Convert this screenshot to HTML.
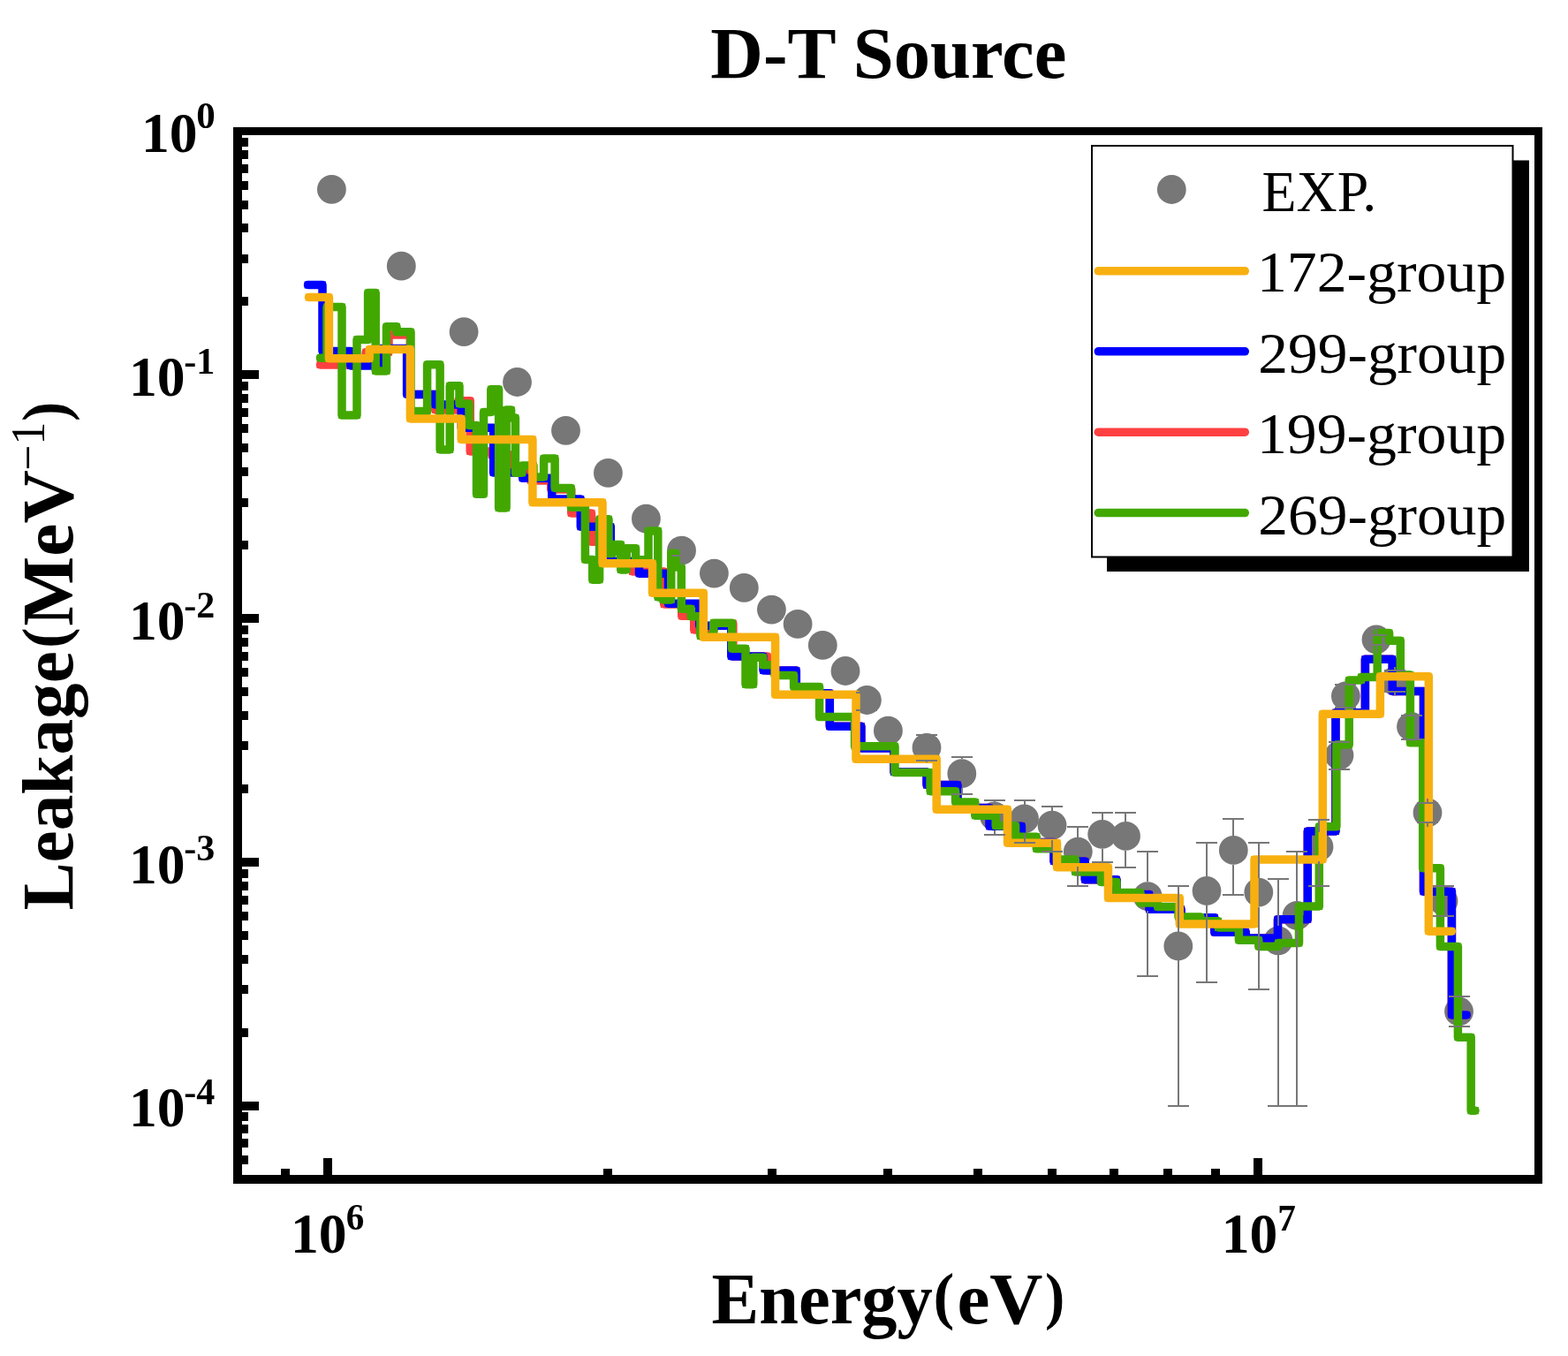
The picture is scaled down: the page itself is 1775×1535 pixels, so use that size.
<!DOCTYPE html><html><head><meta charset="utf-8"><title>D-T Source</title>
<style>html,body{margin:0;padding:0;background:#fff;}svg{display:block;}text{font-family:"Liberation Serif","Times New Roman",serif;}</style></head><body>
<svg xmlns="http://www.w3.org/2000/svg" width="1775" height="1535" viewBox="0 0 1775 1535">
<rect width="1775" height="1535" fill="#fff"/>
<g fill="#777777">
<circle cx="375.4" cy="214.3" r="16.4"/>
<circle cx="454.3" cy="301.2" r="16.4"/>
<circle cx="525.1" cy="375.6" r="16.4"/>
<circle cx="585.5" cy="432.5" r="16.4"/>
<circle cx="640.5" cy="487.3" r="16.4"/>
<circle cx="688.4" cy="535.4" r="16.4"/>
<circle cx="731.4" cy="587.2" r="16.4"/>
<circle cx="771.5" cy="623.2" r="16.4"/>
<circle cx="808.4" cy="649.1" r="16.4"/>
<circle cx="842.3" cy="665.4" r="16.4"/>
<circle cx="873.4" cy="690.1" r="16.4"/>
<circle cx="903.1" cy="706.3" r="16.4"/>
<circle cx="931.3" cy="730.3" r="16.4"/>
<circle cx="957.0" cy="759.5" r="16.4"/>
<circle cx="981.4" cy="792.5" r="16.4"/>
<circle cx="1005.4" cy="827.2" r="16.4"/>
<circle cx="1049.0" cy="846.3" r="16.4"/>
<circle cx="1088.8" cy="875.7" r="16.4"/>
<circle cx="1125.5" cy="924.0" r="16.4"/>
<circle cx="1159.5" cy="926.9" r="16.4"/>
<circle cx="1191.0" cy="934.2" r="16.4"/>
<circle cx="1220.3" cy="964.1" r="16.4"/>
<circle cx="1247.7" cy="944.3" r="16.4"/>
<circle cx="1274.5" cy="946.4" r="16.4"/>
<circle cx="1299.2" cy="1014.7" r="16.4"/>
<circle cx="1333.8" cy="1071.0" r="16.4"/>
<circle cx="1366.0" cy="1008.5" r="16.4"/>
<circle cx="1396.3" cy="962.4" r="16.4"/>
<circle cx="1424.8" cy="1010.2" r="16.4"/>
<circle cx="1447.0" cy="1064.8" r="16.4"/>
<circle cx="1468.1" cy="1036.4" r="16.4"/>
<circle cx="1493.0" cy="958.5" r="16.4"/>
<circle cx="1516.0" cy="855.0" r="16.4"/>
<circle cx="1523.4" cy="788.0" r="16.4"/>
<circle cx="1558.0" cy="724.0" r="16.4"/>
<circle cx="1579.0" cy="771.0" r="16.4"/>
<circle cx="1597.5" cy="822.5" r="16.4"/>
<circle cx="1616.0" cy="920.0" r="16.4"/>
<circle cx="1634.0" cy="1020.0" r="16.4"/>
<circle cx="1651.5" cy="1145.0" r="16.4"/>
</g>
<g fill="none" stroke="#FF4040"><path d="M362.50 413.00L414.20 413.00L414.20 398.70L440.00 398.70L440.00 379.00L464.30 379.00L464.30 446.40L492.70 446.40L492.70 464.00L518.80 464.00L518.80 453.70L532.20 453.70L532.20 511.00L556.70 511.00L556.70 515.00L578.80 515.00L578.80 533.00L600.75 533.00L600.75 543.90L623.75 543.90L623.75 554.00L646.75 554.00L646.75 581.00L669.50 581.00L669.50 613.25L691.30 613.25L691.30 635.50L716.00 635.50L716.00 647.00L751.75 647.00L751.75 684.00L771.75 684.00L771.75 697.35L785.75 697.35L785.75 713.00L808.00 713.00L808.00 705.80L829.85 705.80L829.85 743.00L868.50 743.00L868.50 759.00L901.30 759.00L901.30 784.80L939.30 784.80L939.30 822.30L974.90 822.30L974.90 847.00L1012.00 847.00L1012.00 874.00L1049.00 874.00L1049.00 888.50L1084.00 888.50L1084.00 914.50L1120.00 914.50L1120.00 935.20L1156.40 935.20L1156.40 953.50L1193.00 953.50L1193.00 975.00L1228.30 975.00L1228.30 995.80L1264.00 995.80L1264.00 1012.60L1301.00 1012.60L1301.00 1029.30L1337.00 1029.30L1337.00 1038.80L1374.80 1038.80L1374.80 1055.30L1410.20 1055.30L1410.20 1062.00L1446.50 1062.00L1446.50 1040.70L1480.30 1040.70L1480.30 941.00L1512.00 941.00L1512.00 806.80L1545.40 806.80L1545.40 746.30L1576.20 746.30L1576.20 782.40L1611.50 782.40L1611.50 1009.20L1643.40 1009.20L1643.40 1148.90L1660.20 1148.90" stroke-width="9.5" stroke-linejoin="round" stroke-linecap="round"/><path d="M362.50 413.00L414.20 413.00L414.20 398.70L440.00 398.70L440.00 379.00L464.30 379.00L464.30 446.40L492.70 446.40L492.70 464.00L518.80 464.00L518.80 453.70L532.20 453.70L532.20 511.00L556.70 511.00L556.70 515.00L578.80 515.00L578.80 533.00L600.75 533.00L600.75 543.90L623.75 543.90L623.75 554.00L646.75 554.00L646.75 581.00L669.50 581.00L669.50 613.25L691.30 613.25L691.30 635.50L716.00 635.50L716.00 647.00L751.75 647.00L751.75 684.00L771.75 684.00L771.75 697.35L785.75 697.35L785.75 713.00L808.00 713.00L808.00 705.80L829.85 705.80L829.85 743.00L868.50 743.00L868.50 759.00L901.30 759.00L901.30 784.80L939.30 784.80L939.30 822.30L974.90 822.30L974.90 847.00L1012.00 847.00L1012.00 874.00L1049.00 874.00L1049.00 888.50L1084.00 888.50L1084.00 914.50L1120.00 914.50L1120.00 935.20L1156.40 935.20L1156.40 953.50L1193.00 953.50L1193.00 975.00L1228.30 975.00L1228.30 995.80L1264.00 995.80L1264.00 1012.60L1301.00 1012.60L1301.00 1029.30L1337.00 1029.30L1337.00 1038.80L1374.80 1038.80L1374.80 1055.30L1410.20 1055.30L1410.20 1062.00L1446.50 1062.00L1446.50 1040.70L1480.30 1040.70L1480.30 941.00L1512.00 941.00L1512.00 806.80L1545.40 806.80L1545.40 746.30L1576.20 746.30L1576.20 782.40L1611.50 782.40L1611.50 1009.20L1643.40 1009.20L1643.40 1148.90L1660.20 1148.90" stroke-width="7.9" stroke-linejoin="miter" stroke-linecap="square"/></g>
<g fill="none" stroke="#0000FF"><path d="M348.50 322.50L365.00 322.50L365.00 397.40L396.90 397.40L396.90 414.00L431.70 414.00L431.70 394.50L460.60 394.50L460.60 446.40L492.70 446.40L492.70 458.10L522.20 458.10L522.20 484.20L558.60 484.20L558.60 535.10L591.60 535.10L591.60 541.30L624.80 541.30L624.80 565.00L657.30 565.00L657.30 596.20L691.30 596.20L691.30 635.50L723.50 635.50L723.50 649.25L756.50 649.25L756.50 683.25L791.80 683.25L791.80 708.30L827.80 708.30L827.80 743.00L864.00 743.00L864.00 759.00L901.30 759.00L901.30 784.80L939.30 784.80L939.30 822.30L974.90 822.30L974.90 847.00L1012.00 847.00L1012.00 874.00L1049.00 874.00L1049.00 888.50L1084.00 888.50L1084.00 914.50L1120.00 914.50L1120.00 935.20L1156.40 935.20L1156.40 953.50L1193.00 953.50L1193.00 975.00L1228.30 975.00L1228.30 995.80L1264.00 995.80L1264.00 1012.60L1301.00 1012.60L1301.00 1029.30L1337.00 1029.30L1337.00 1038.80L1374.80 1038.80L1374.80 1055.30L1410.20 1055.30L1410.20 1062.00L1446.50 1062.00L1446.50 1040.70L1480.30 1040.70L1480.30 941.00L1512.00 941.00L1512.00 806.80L1545.40 806.80L1545.40 746.30L1576.20 746.30L1576.20 782.40L1611.50 782.40L1611.50 1009.20L1643.40 1009.20L1643.40 1148.90L1660.20 1148.90" stroke-width="9.5" stroke-linejoin="round" stroke-linecap="round"/><path d="M348.50 322.50L365.00 322.50L365.00 397.40L396.90 397.40L396.90 414.00L431.70 414.00L431.70 394.50L460.60 394.50L460.60 446.40L492.70 446.40L492.70 458.10L522.20 458.10L522.20 484.20L558.60 484.20L558.60 535.10L591.60 535.10L591.60 541.30L624.80 541.30L624.80 565.00L657.30 565.00L657.30 596.20L691.30 596.20L691.30 635.50L723.50 635.50L723.50 649.25L756.50 649.25L756.50 683.25L791.80 683.25L791.80 708.30L827.80 708.30L827.80 743.00L864.00 743.00L864.00 759.00L901.30 759.00L901.30 784.80L939.30 784.80L939.30 822.30L974.90 822.30L974.90 847.00L1012.00 847.00L1012.00 874.00L1049.00 874.00L1049.00 888.50L1084.00 888.50L1084.00 914.50L1120.00 914.50L1120.00 935.20L1156.40 935.20L1156.40 953.50L1193.00 953.50L1193.00 975.00L1228.30 975.00L1228.30 995.80L1264.00 995.80L1264.00 1012.60L1301.00 1012.60L1301.00 1029.30L1337.00 1029.30L1337.00 1038.80L1374.80 1038.80L1374.80 1055.30L1410.20 1055.30L1410.20 1062.00L1446.50 1062.00L1446.50 1040.70L1480.30 1040.70L1480.30 941.00L1512.00 941.00L1512.00 806.80L1545.40 806.80L1545.40 746.30L1576.20 746.30L1576.20 782.40L1611.50 782.40L1611.50 1009.20L1643.40 1009.20L1643.40 1148.90L1660.20 1148.90" stroke-width="7.9" stroke-linejoin="miter" stroke-linecap="square"/></g>
<g fill="none" stroke="#42A800"><path d="M362.50 405.20L370.00 405.20L370.00 347.50L387.00 347.50L387.00 470.10L404.00 470.10L404.00 384.50L416.60 384.50L416.60 331.50L425.20 331.50L425.20 420.00L437.50 420.00L437.50 369.80L449.00 369.80L449.00 375.80L465.00 375.80L465.00 465.50L483.60 465.50L483.60 412.80L498.10 412.80L498.10 509.00L509.20 509.00L509.20 436.80L520.00 436.80L520.00 457.10L531.00 457.10L531.00 481.50L539.50 481.50L539.50 559.30L547.50 559.30L547.50 466.50L555.80 466.50L555.80 440.80L564.60 440.80L564.60 575.00L573.10 575.00L573.10 463.90L578.60 463.90L578.60 473.00L583.40 473.00L583.40 535.20L591.10 535.20L591.10 527.00L604.00 527.00L604.00 540.00L615.60 540.00L615.60 518.90L628.10 518.90L628.10 552.40L646.40 552.40L646.40 574.30L662.40 574.30L662.40 633.50L670.75 633.50L670.75 656.20L678.60 656.20L678.60 587.80L689.00 587.80L689.00 626.50L693.50 626.50L693.50 616.50L702.75 616.50L702.75 645.00L709.20 645.00L709.20 620.75L719.60 620.75L719.60 633.75L734.00 633.75L734.00 600.90L744.80 600.90L744.80 676.00L750.50 676.00L750.50 679.00L759.75 679.00L759.75 626.30L765.00 626.30L765.00 641.90L771.30 641.90L771.30 689.20L782.20 689.20L782.20 697.80L792.90 697.80L792.90 720.00L807.80 720.00L807.80 705.30L828.60 705.30L828.60 734.20L844.00 734.20L844.00 774.70L852.75 774.70L852.75 744.20L863.80 744.20L863.80 752.80L877.00 752.80L877.00 764.50L898.60 764.50L898.60 777.50L927.60 777.50L927.60 811.60L967.60 811.60L967.60 844.70L1013.00 844.70L1013.00 874.40L1053.10 874.40L1053.10 895.70L1081.60 895.70L1081.60 907.90L1103.80 907.90L1103.80 923.20L1127.20 923.20L1127.20 934.70L1149.60 934.70L1149.60 947.30L1173.30 947.30L1173.30 960.80L1196.50 960.80L1196.50 973.00L1217.30 973.00L1217.30 987.00L1246.40 987.00L1246.40 998.40L1264.00 998.40L1264.00 1010.50L1291.00 1010.50L1291.00 1022.00L1310.50 1022.00L1310.50 1026.60L1334.00 1026.60L1334.00 1037.90L1359.00 1037.90L1359.00 1042.75L1379.00 1042.75L1379.00 1050.00L1402.40 1050.00L1402.40 1064.30L1424.80 1064.30L1424.80 1071.40L1447.00 1071.40L1447.00 1067.50L1470.50 1067.50L1470.50 1026.00L1493.30 1026.00L1493.30 935.80L1512.90 935.80L1512.90 843.00L1527.20 843.00L1527.20 769.90L1541.00 769.90L1541.00 766.50L1559.20 766.50L1559.20 716.50L1572.60 716.50L1572.60 725.20L1585.30 725.20L1585.30 764.00L1596.40 764.00L1596.40 840.80L1610.70 840.80L1610.70 982.70L1630.40 982.70L1630.40 1071.50L1650.40 1071.50L1650.40 1174.20L1665.20 1174.20L1665.20 1257.20L1670.00 1257.20" stroke-width="9.5" stroke-linejoin="round" stroke-linecap="round"/><path d="M362.50 405.20L370.00 405.20L370.00 347.50L387.00 347.50L387.00 470.10L404.00 470.10L404.00 384.50L416.60 384.50L416.60 331.50L425.20 331.50L425.20 420.00L437.50 420.00L437.50 369.80L449.00 369.80L449.00 375.80L465.00 375.80L465.00 465.50L483.60 465.50L483.60 412.80L498.10 412.80L498.10 509.00L509.20 509.00L509.20 436.80L520.00 436.80L520.00 457.10L531.00 457.10L531.00 481.50L539.50 481.50L539.50 559.30L547.50 559.30L547.50 466.50L555.80 466.50L555.80 440.80L564.60 440.80L564.60 575.00L573.10 575.00L573.10 463.90L578.60 463.90L578.60 473.00L583.40 473.00L583.40 535.20L591.10 535.20L591.10 527.00L604.00 527.00L604.00 540.00L615.60 540.00L615.60 518.90L628.10 518.90L628.10 552.40L646.40 552.40L646.40 574.30L662.40 574.30L662.40 633.50L670.75 633.50L670.75 656.20L678.60 656.20L678.60 587.80L689.00 587.80L689.00 626.50L693.50 626.50L693.50 616.50L702.75 616.50L702.75 645.00L709.20 645.00L709.20 620.75L719.60 620.75L719.60 633.75L734.00 633.75L734.00 600.90L744.80 600.90L744.80 676.00L750.50 676.00L750.50 679.00L759.75 679.00L759.75 626.30L765.00 626.30L765.00 641.90L771.30 641.90L771.30 689.20L782.20 689.20L782.20 697.80L792.90 697.80L792.90 720.00L807.80 720.00L807.80 705.30L828.60 705.30L828.60 734.20L844.00 734.20L844.00 774.70L852.75 774.70L852.75 744.20L863.80 744.20L863.80 752.80L877.00 752.80L877.00 764.50L898.60 764.50L898.60 777.50L927.60 777.50L927.60 811.60L967.60 811.60L967.60 844.70L1013.00 844.70L1013.00 874.40L1053.10 874.40L1053.10 895.70L1081.60 895.70L1081.60 907.90L1103.80 907.90L1103.80 923.20L1127.20 923.20L1127.20 934.70L1149.60 934.70L1149.60 947.30L1173.30 947.30L1173.30 960.80L1196.50 960.80L1196.50 973.00L1217.30 973.00L1217.30 987.00L1246.40 987.00L1246.40 998.40L1264.00 998.40L1264.00 1010.50L1291.00 1010.50L1291.00 1022.00L1310.50 1022.00L1310.50 1026.60L1334.00 1026.60L1334.00 1037.90L1359.00 1037.90L1359.00 1042.75L1379.00 1042.75L1379.00 1050.00L1402.40 1050.00L1402.40 1064.30L1424.80 1064.30L1424.80 1071.40L1447.00 1071.40L1447.00 1067.50L1470.50 1067.50L1470.50 1026.00L1493.30 1026.00L1493.30 935.80L1512.90 935.80L1512.90 843.00L1527.20 843.00L1527.20 769.90L1541.00 769.90L1541.00 766.50L1559.20 766.50L1559.20 716.50L1572.60 716.50L1572.60 725.20L1585.30 725.20L1585.30 764.00L1596.40 764.00L1596.40 840.80L1610.70 840.80L1610.70 982.70L1630.40 982.70L1630.40 1071.50L1650.40 1071.50L1650.40 1174.20L1665.20 1174.20L1665.20 1257.20L1670.00 1257.20" stroke-width="7.9" stroke-linejoin="miter" stroke-linecap="square"/></g>
<g fill="none" stroke="#F8B010"><path d="M349.50 336.50L372.40 336.50L372.40 405.80L418.20 405.80L418.20 395.50L464.40 395.50L464.40 473.90L522.20 473.90L522.20 497.40L602.90 497.40L602.90 568.80L682.00 568.80L682.00 637.70L738.50 637.70L738.50 671.20L796.30 671.20L796.30 721.30L877.60 721.30L877.60 786.30L969.00 786.30L969.00 859.30L1060.20 859.30L1060.20 916.30L1140.50 916.30L1140.50 954.20L1196.50 954.20L1196.50 981.70L1254.50 981.70L1254.50 1016.60L1335.30 1016.60L1335.30 1046.00L1420.00 1046.00L1420.00 973.00L1497.30 973.00L1497.30 808.20L1562.40 808.20L1562.40 765.70L1617.30 765.70L1617.30 1054.20L1643.30 1054.20" stroke-width="9.5" stroke-linejoin="round" stroke-linecap="round"/><path d="M349.50 336.50L372.40 336.50L372.40 405.80L418.20 405.80L418.20 395.50L464.40 395.50L464.40 473.90L522.20 473.90L522.20 497.40L602.90 497.40L602.90 568.80L682.00 568.80L682.00 637.70L738.50 637.70L738.50 671.20L796.30 671.20L796.30 721.30L877.60 721.30L877.60 786.30L969.00 786.30L969.00 859.30L1060.20 859.30L1060.20 916.30L1140.50 916.30L1140.50 954.20L1196.50 954.20L1196.50 981.70L1254.50 981.70L1254.50 1016.60L1335.30 1016.60L1335.30 1046.00L1420.00 1046.00L1420.00 973.00L1497.30 973.00L1497.30 808.20L1562.40 808.20L1562.40 765.70L1617.30 765.70L1617.30 1054.20L1643.30 1054.20" stroke-width="7.9" stroke-linejoin="miter" stroke-linecap="square"/></g>
<path d="M772 606.8V617M772 639.6V629M760 617H784M760 629H784M981 776.1V784M981 808.9V804M969 784H993M969 804H993M1049 829.9V832M1049 862.7V861M1037 832H1061M1037 861H1061M1089 859.3V857M1089 892.1V899M1077 857H1101M1077 899H1101M1126 907.6V906M1126 940.4V945M1114 906H1138M1114 945H1138M1160 910.5V906M1160 943.3V954M1148 906H1172M1148 954H1172M1191 917.8V913M1191 950.6V964M1179 913H1203M1179 964H1203M1220 947.7V936M1220 980.5V1003M1208 936H1232M1208 1003H1232M1248 927.9V920M1248 960.7V976M1236 920H1260M1236 976H1260M1274 930.0V920M1274 962.8V982M1262 920H1286M1262 982H1286M1299 998.3V964M1299 1031.1V1105M1287 964H1311M1287 1105H1311M1334 1054.6V1003M1334 1087.4V1252M1322 1003H1346M1322 1252H1346M1366 992.1V954M1366 1024.9V1112M1354 954H1378M1354 1112H1378M1396 946.0V927M1396 978.8V1013M1384 927H1408M1384 1013H1408M1425 993.8V954M1425 1026.6V1120M1413 954H1437M1413 1120H1437M1447 1048.4V995M1447 1081.2V1252M1435 995H1459M1435 1252H1459M1468 1020.0V964M1468 1052.8V1252M1456 964H1480M1456 1252H1480M1493 942.1V928M1493 974.9V1003M1481 928H1505M1481 1003H1505M1516 838.6V840M1516 871.4V871M1504 840H1528M1504 871H1528M1523 771.6V775M1523 804.4V801M1511 775H1535M1511 801H1535M1558 707.6V719M1558 740.4V730M1546 719H1570M1546 730H1570M1579 754.6V759M1579 787.4V783M1567 759H1591M1567 783H1591M1598 806.1V810M1598 838.9V837M1586 810H1610M1586 837H1610M1616 903.6V909M1616 936.4V931M1604 909H1628M1604 931H1628M1634 1003.6V1003M1634 1036.4V1037M1622 1003H1646M1622 1037H1646M1652 1128.6V1128M1652 1161.4V1162M1640 1128H1664M1640 1162H1664" fill="none" stroke="#777777" stroke-width="2" shape-rendering="crispEdges"/>
<path d="M264 144H274V1340H264ZM1737 144H1746V1340H1737ZM264 144H1746V153H264ZM264 1330H1746V1340H264ZM264 419H293V429H264ZM264 695H293V705H264ZM264 971H293V981H264ZM264 1247H293V1257H264ZM264 1308H281V1318H264ZM264 1289H281V1299H264ZM264 1273H281V1283H264ZM264 1259H281V1269H264ZM264 1164H281V1174H264ZM264 1115H281V1125H264ZM264 1081H281V1091H264ZM264 1054H281V1064H264ZM264 1032H281V1042H264ZM264 1014H281V1024H264ZM264 998H281V1008H264ZM264 984H281V994H264ZM264 888H281V898H264ZM264 839H281V849H264ZM264 805H281V815H264ZM264 778H281V788H264ZM264 756H281V766H264ZM264 738H281V748H264ZM264 722H281V732H264ZM264 708H281V718H264ZM264 612H281V622H264ZM264 564H281V574H264ZM264 529H281V539H264ZM264 502H281V512H264ZM264 480H281V490H264ZM264 462H281V472H264ZM264 446H281V456H264ZM264 432H281V442H264ZM264 336H281V346H264ZM264 288H281V298H264ZM264 253H281V263H264ZM264 227H281V237H264ZM264 205H281V215H264ZM264 186H281V196H264ZM264 170H281V180H264ZM264 156H281V166H264ZM366 1311H376V1340H366ZM1419 1311H1429V1340H1419ZM318 1323H328V1340H318ZM683 1323H693V1340H683ZM869 1323H879V1340H869ZM1000 1323H1010V1340H1000ZM1102 1323H1112V1340H1102ZM1186 1323H1196V1340H1186ZM1256 1323H1266V1340H1256ZM1317 1323H1327V1340H1317ZM1371 1323H1381V1340H1371Z" fill="#000" shape-rendering="crispEdges"/>
<rect x="1253" y="181.5" width="478" height="465.5" fill="#000"/>
<rect x="1236" y="165" width="476.5" height="465.5" fill="#fff" stroke="#000" stroke-width="2"/>
<circle cx="1326.3" cy="214.5" r="16.4" fill="#777777"/>
<path d="M1243.3 306.8H1409.3" stroke="#F8B010" stroke-width="9.5" stroke-linecap="round"/>
<path d="M1243.3 397.8H1409.3" stroke="#0000FF" stroke-width="9.5" stroke-linecap="round"/>
<path d="M1243.3 489.2H1409.3" stroke="#FF4040" stroke-width="9.5" stroke-linecap="round"/>
<path d="M1243.3 580.6H1409.3" stroke="#42A800" stroke-width="9.5" stroke-linecap="round"/>
<text x="1428.6" y="239.0" font-size="64.5" textLength="129.5" lengthAdjust="spacingAndGlyphs">EXP.</text>
<text x="1422.9" y="330.0" font-size="64.5" textLength="282.3" lengthAdjust="spacingAndGlyphs">172-group</text>
<text x="1424.3" y="421.5" font-size="64.5" textLength="280.9" lengthAdjust="spacingAndGlyphs">299-group</text>
<text x="1422.9" y="512.9" font-size="64.5" textLength="282.3" lengthAdjust="spacingAndGlyphs">199-group</text>
<text x="1424.3" y="604.5" font-size="64.5" textLength="280.9" lengthAdjust="spacingAndGlyphs">269-group</text>
<text x="159.9" y="172.0" font-size="63.5" font-weight="bold" textLength="63.6" lengthAdjust="spacingAndGlyphs">10</text>
<text x="222.3" y="145.2" font-size="41.3" font-weight="bold" textLength="21.5" lengthAdjust="spacingAndGlyphs">0</text>
<text x="145.9" y="448.0" font-size="63.5" font-weight="bold" textLength="63.6" lengthAdjust="spacingAndGlyphs">10</text>
<text x="208.3" y="422.7" font-size="41.3" font-weight="bold" textLength="35.0" lengthAdjust="spacingAndGlyphs">-1</text>
<text x="145.9" y="723.8" font-size="63.5" font-weight="bold" textLength="63.6" lengthAdjust="spacingAndGlyphs">10</text>
<text x="208.3" y="698.5" font-size="41.3" font-weight="bold" textLength="35.0" lengthAdjust="spacingAndGlyphs">-2</text>
<text x="145.9" y="999.6" font-size="63.5" font-weight="bold" textLength="63.6" lengthAdjust="spacingAndGlyphs">10</text>
<text x="208.3" y="974.3" font-size="41.3" font-weight="bold" textLength="35.0" lengthAdjust="spacingAndGlyphs">-3</text>
<text x="145.9" y="1275.4" font-size="63.5" font-weight="bold" textLength="63.6" lengthAdjust="spacingAndGlyphs">10</text>
<text x="208.3" y="1250.1" font-size="41.3" font-weight="bold" textLength="35.0" lengthAdjust="spacingAndGlyphs">-4</text>
<text x="328.9" y="1417.8" font-size="63.5" font-weight="bold" textLength="63.6" lengthAdjust="spacingAndGlyphs">10</text>
<text x="391.7" y="1392.2" font-size="41.3" font-weight="bold" textLength="20.6" lengthAdjust="spacingAndGlyphs">6</text>
<text x="1382.7" y="1418.0" font-size="63.5" font-weight="bold" textLength="63.6" lengthAdjust="spacingAndGlyphs">10</text>
<text x="1446.2" y="1392.5" font-size="41.3" font-weight="bold" textLength="20.6" lengthAdjust="spacingAndGlyphs">7</text>
<text x="804.3" y="88" font-size="82.6" font-weight="bold" textLength="403.1" lengthAdjust="spacingAndGlyphs">D-T Source</text>
<text x="805.6" y="1498.3" font-size="82.6" font-weight="bold" textLength="250.2" lengthAdjust="spacingAndGlyphs">Energy</text>
<text x="1056.6" y="1490.9" font-size="71.1" font-weight="bold" textLength="23.8" lengthAdjust="spacingAndGlyphs">(</text>
<text x="1083.4" y="1498.3" font-size="82.6" font-weight="bold" textLength="97.1" lengthAdjust="spacingAndGlyphs">eV</text>
<text x="1183.1" y="1490.9" font-size="71.1" font-weight="bold" textLength="22.3" lengthAdjust="spacingAndGlyphs">)</text>
<g transform="translate(82 1029) rotate(-90)"><text x="-1.6" y="0.0" font-size="82.6" font-weight="bold" textLength="293.4" lengthAdjust="spacingAndGlyphs">Leakage</text><text x="295.2" y="-7.3" font-size="71.1" font-weight="bold" textLength="23.3" lengthAdjust="spacingAndGlyphs">(</text><text x="320.3" y="0.0" font-size="82.6" font-weight="bold" textLength="176.5" lengthAdjust="spacingAndGlyphs">MeV</text><text x="496.5" y="-31.8" font-size="54.8" textLength="54.8" lengthAdjust="spacingAndGlyphs">−1</text><text x="551.9" y="-7.3" font-size="71.1" font-weight="bold" textLength="22.3" lengthAdjust="spacingAndGlyphs">)</text></g>
</svg></body></html>
